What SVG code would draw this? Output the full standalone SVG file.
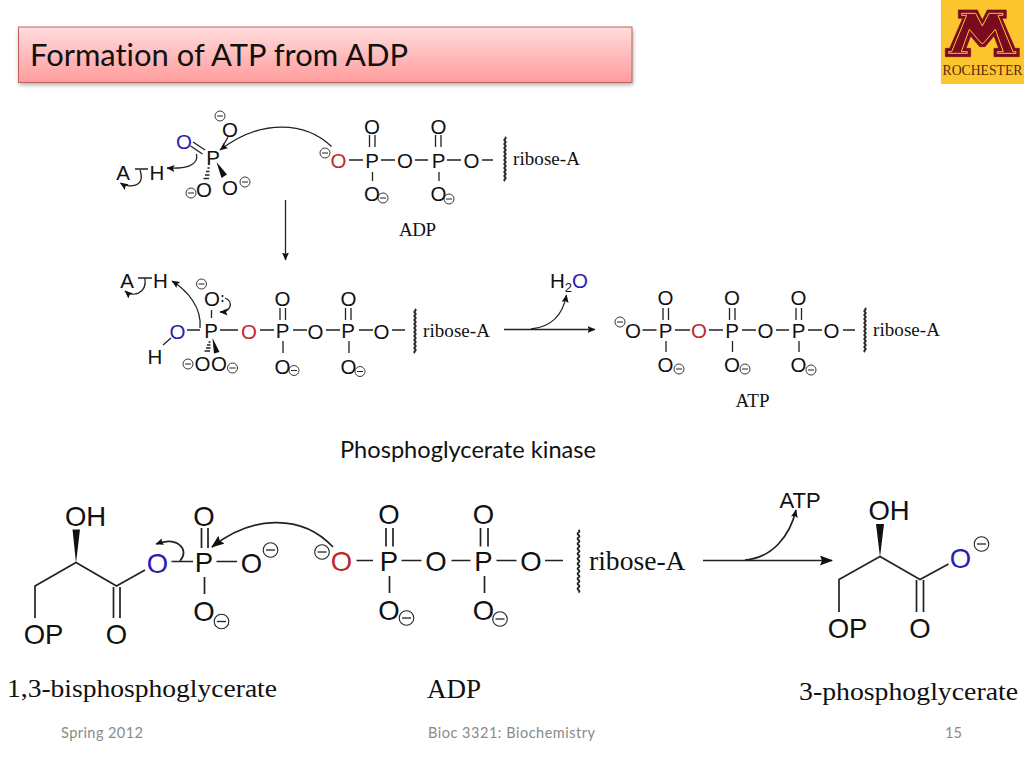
<svg xmlns="http://www.w3.org/2000/svg" width="1024" height="768" viewBox="0 0 1024 768">
<style>
text{fill:#111}
.s{font-family:"Liberation Sans",Arial,sans-serif;text-anchor:middle;font-size:20.5px}
.b{font-size:27.5px}
.t{font-family:"Liberation Serif","Times New Roman",serif}
.c{font-family:Lato,"Open Sans",sans-serif;font-variant-ligatures:none}
.f{font-family:Lato,"Open Sans",sans-serif;font-size:14.5px;fill:#8a8a8a;font-variant-ligatures:none}
.r{fill:#c0282c}.u{fill:#2a1cb4}
.l{fill:none;stroke:#222;stroke-width:1.3}
.h{stroke-width:1.7}
.a{marker-end:url(#m)}
.e{marker-end:url(#M)}
.w{fill:none;stroke:#222;stroke-width:1.9}
</style>
<defs>
<linearGradient id="g" x1="0" y1="0" x2="0" y2="1"><stop offset="0" stop-color="#ffdcdc"/><stop offset="1" stop-color="#ff9c9c"/></linearGradient>
<filter id="sh" x="-5%" y="-20%" width="110%" height="150%"><feGaussianBlur stdDeviation="2"/></filter>
<marker id="m" markerUnits="userSpaceOnUse" markerWidth="10" markerHeight="8" refX="7.5" refY="3.5" orient="auto"><path d="M0 0L8 3.5L0 7L1.5 3.5Z" fill="#111"/></marker>
<marker id="M" markerUnits="userSpaceOnUse" markerWidth="16" markerHeight="12" refX="12" refY="5" orient="auto"><path d="M0 0L13 5L0 10L2 5Z" fill="#111"/></marker>
<g id="n"><circle r="5" fill="none" stroke="#222" stroke-width=".9"/><path d="M-3 0H3" stroke="#222" stroke-width="1"/></g>
<g id="N"><circle r="7.3" fill="none" stroke="#222" stroke-width="1.1"/><path d="M-4.500 0H4.500" stroke="#222" stroke-width="1.3"/></g>
<path id="w1" d="M0 0q1.400 1 0 2t0 2t0 2t0 2t0 2t0 2t0 2t0 2t0 2t0 2t0 2t0 2t0 2t0 2t0 2t0 2t0 2t0 2t0 2t0 2t0 2t0 2" class="w"/>
<path id="w2" d="M0 0q1.800 1.250 0 2.500t0 2.500t0 2.500t0 2.500t0 2.500t0 2.500t0 2.500t0 2.500t0 2.500t0 2.500t0 2.500t0 2.500t0 2.500t0 2.500t0 2.500t0 2.500t0 2.500t0 2.500t0 2.500t0 2.500t0 2.500t0 2.500t0 2.500t0 2.500t0 2.500" class="w"/>
</defs>

<g id="title">
<rect x="19" y="30" width="614" height="55" fill="#777" opacity=".6" filter="url(#sh)"/>
<rect x="18.500" y="27" width="613.500" height="55.500" fill="url(#g)" stroke="#c4605c" stroke-width="1"/>
<text class="c" x="30" y="66" font-size="31" textLength="378" lengthAdjust="spacingAndGlyphs">Formation of ATP from ADP</text>
</g>

<g id="logo">
<rect x="941" y="0" width="83" height="84" fill="#fcc52e"/>
<g transform="translate(920 0) scale(.3333)">
<polygon points="115,30 172,30 187,60 202,30 259,30 259,55 246,55 285,145 298,145 298,170 222,170 222,145 236,145 222,108 195,140 179,140 152,108 138,145 152,145 152,170 76,170 76,145 89,145 128,55 115,55" fill="#7a0a1e" stroke="#7a0a1e" stroke-width="2"/>
<polygon points="125,40 167,40 187,78 207,40 249,40 249,46 234,46 279,155 288,155 288,160 232,160 232,155 250,155 226,88 190,130 184,130 148,88 124,155 142,155 142,160 86,160 86,155 95,155 140,46 125,46" fill="none" stroke="#fcc52e" stroke-width="3"/>
</g>
<text class="t" x="982.500" y="75" font-size="14" text-anchor="middle" textLength="80" lengthAdjust="spacingAndGlyphs" style="fill:#5a2a10">ROCHESTER</text>
</g>

<g id="reactant-top">
<path class="l" d="M193 142L205 150M190.500 146L202.500 154M223 146L228 137M135 169H148"/>
<path d="M216.500 162L227 174.500L221.500 178Z" fill="#111"/>
<path class="l" stroke-width="1" d="M207.500 168h2M206 171.500h3.500M205 175h4.500M203.500 178.500h5.500"/>
<text class="s u" x="184" y="148.500">O</text>
<text class="s" x="213" y="164.500">P</text>
<text class="s" x="230" y="136.500">O</text>
<text class="s" x="123" y="179.500">A</text>
<text class="s" x="157" y="179.500">H</text>
<text class="s" x="204" y="196.500">O</text>
<text class="s" x="230" y="194.500">O</text>
<use href="#n" x="220" y="116"/><use href="#n" x="191" y="193"/><use href="#n" x="245" y="182"/>
</g>

<g id="adp-top">
<path class="l" d="M349 160H363M381 160H395M415 160H428M447 160H461M482 160H493M369.500 135V147M375 135V147M372.500 172V181M435.500 135V147M441 135V147M439 172V181"/>
<text class="s r" x="338.500" y="167.500">O</text>
<text class="s" x="372" y="167.500">P</text>
<text class="s" x="405" y="167.500">O</text>
<text class="s" x="438.500" y="167.500">P</text>
<text class="s" x="471.500" y="167.500">O</text>
<text class="s" x="372" y="133.500">O</text>
<text class="s" x="438.500" y="133.500">O</text>
<text class="s" x="372" y="200.500">O</text>
<text class="s" x="438.500" y="200.500">O</text>
<use href="#n" x="325" y="153"/><use href="#n" x="383" y="198"/><use href="#n" x="449" y="199"/>
<use href="#w1" x="505" y="137"/>
<text class="t" x="513" y="165" font-size="19" textLength="67">ribose-A</text>
<text class="t" x="399" y="236" font-size="19" textLength="37">ADP</text>
</g>

<g id="intermediate">
<path class="l" d="M138 278H152M187 330H200M220 330H238M260 330H274M293 330H307M326 330H340M359 330H373M392 330H405M211.500 310V318M280 308V320M285.500 308V320M283 341V353M345.500 308V320M351 308V320M349 341V353M163 345L171 338"/>
<path d="M212.500 338L219.500 352L214 353.500Z" fill="#111"/>
<path class="l" stroke-width="1" d="M208.500 342h2M207 345h3.500M206 348h4.500M204.500 351h5.500"/>
<text class="s" x="127" y="287.500">A</text>
<text class="s" x="160.500" y="287.500">H</text>
<text class="s" x="212" y="305.500">O</text>
<circle cx="222.500" cy="296" r="1.100" fill="#111"/><circle cx="222.500" cy="301" r="1.100" fill="#111"/>
<text class="s u" x="177.500" y="338.500">O</text>
<text class="s" x="155" y="363.500">H</text>
<text class="s" x="211" y="337.500">P</text>
<text class="s r" x="249" y="338.500">O</text>
<text class="s" x="282.500" y="337.500">P</text>
<text class="s" x="315.500" y="338.500">O</text>
<text class="s" x="348" y="337.500">P</text>
<text class="s" x="381.500" y="338.500">O</text>
<text class="s" x="282.500" y="305.500">O</text>
<text class="s" x="348.500" y="305.500">O</text>
<text class="s" x="282.500" y="373.500">O</text>
<text class="s" x="348.500" y="373.500">O</text>
<text class="s" x="202.500" y="370.500">O</text>
<text class="s" x="219" y="370.500">O</text>
<use href="#n" x="201.500" y="284"/><use href="#n" x="188" y="364"/><use href="#n" x="232.500" y="368"/><use href="#n" x="294" y="370.500"/><use href="#n" x="360" y="371.500"/>
<use href="#w1" x="415" y="309"/>
<text class="t" x="423" y="337" font-size="19" textLength="67">ribose-A</text>
</g>

<g id="atp-top">
<path class="l" d="M642.500 330H656.500M675 330H690M709 330H723M742 330H756M776 330H789M808 330H822M843 330H855M663 308V320M668.500 308V320M666 341V352M729.500 308V320M735 308V320M732.500 341V352M796 308V320M801.500 308V320M799 341V352"/>
<text class="s" x="633" y="338">O</text>
<text class="s" x="665.500" y="337.500">P</text>
<text class="s r" x="699" y="338">O</text>
<text class="s" x="732" y="337.500">P</text>
<text class="s" x="765.500" y="338">O</text>
<text class="s" x="798.500" y="337.500">P</text>
<text class="s" x="831.500" y="338">O</text>
<text class="s" x="665.500" y="305">O</text>
<text class="s" x="732" y="305">O</text>
<text class="s" x="798.500" y="305">O</text>
<text class="s" x="665.500" y="371.500">O</text>
<text class="s" x="732" y="371.500">O</text>
<text class="s" x="798.500" y="371.500">O</text>
<use href="#n" x="620" y="322"/><use href="#n" x="679" y="369"/><use href="#n" x="745" y="369"/><use href="#n" x="811" y="370"/>
<use href="#w1" x="865" y="308"/>
<text class="t" x="873" y="336" font-size="19" textLength="67">ribose-A</text>
<text class="t" x="735.500" y="407" font-size="19" textLength="34">ATP</text>
</g>

<g id="water">
<text class="s" x="550" y="288" style="text-anchor:start">H<tspan dy="4" font-size="13">2</tspan><tspan dy="-4" class="u">O</tspan></text>
</g>

<text class="c" x="340" y="458" font-size="22.500" textLength="256" lengthAdjust="spacingAndGlyphs">Phosphoglycerate kinase</text>

<g id="bisphosphoglycerate">
<path class="l h" d="M35 618V586L76 562.500L116.500 586L145 570M113.500 587V618M120 587V618M171.500 561.500H193M216.500 561.500H237M201.500 528V548M208 528V548M204.500 577V594"/>
<path d="M76 563L72.500 529.500H80Z" fill="#111"/>
<text class="s b" x="85.500" y="525.500">OH</text>
<text class="s b" x="43.500" y="643.500">OP</text>
<text class="s b" x="116.500" y="643.500">O</text>
<text class="s b u" x="157.500" y="572.500">O</text>
<text class="s b" x="204" y="571.500">P</text>
<text class="s b" x="204" y="525.500">O</text>
<text class="s b" x="251.500" y="572.500">O</text>
<text class="s b" x="204" y="620.500">O</text>
<use href="#N" x="270.500" y="550"/><use href="#N" x="221.500" y="621.500"/>
<text class="t" x="7" y="697" font-size="26" textLength="270" lengthAdjust="spacingAndGlyphs">1,3-bisphosphoglycerate</text>
</g>

<g id="adp-bottom">
<path class="l h" d="M356.500 560.500H373M401.500 560.500H421.500M451.500 560.500H470.500M496.500 560.500H516.500M545 560.500H563M386 528V546.500M393 528V546.500M389.500 576V593M480.500 528V546.500M488 528V546.500M484.500 576V593"/>
<text class="s b r" x="341.500" y="571">O</text>
<text class="s b" x="389" y="571">P</text>
<text class="s b" x="436" y="571">O</text>
<text class="s b" x="483.500" y="571">P</text>
<text class="s b" x="531" y="571">O</text>
<text class="s b" x="389" y="524">O</text>
<text class="s b" x="483.500" y="524">O</text>
<text class="s b" x="389" y="620">O</text>
<text class="s b" x="483.500" y="620">O</text>
<use href="#N" x="322" y="552"/><use href="#N" x="406.500" y="618"/><use href="#N" x="500" y="619"/>
<use href="#w2" x="578.500" y="530"/>
<text class="t" x="589" y="570" font-size="27" textLength="96.500" lengthAdjust="spacingAndGlyphs">ribose-A</text>
<text class="t" x="427" y="698" font-size="27" textLength="54">ADP</text>
</g>

<g id="phosphoglycerate">
<path class="l h" d="M839 612V579.500L880 556.500L920 579.500L948.500 564M916.500 580V612M923.500 580V612"/>
<path d="M880 557L876 524H884Z" fill="#111"/>
<text class="s b" x="889" y="519.500">OH</text>
<text class="s b" x="847.500" y="637.500">OP</text>
<text class="s b" x="920" y="637.500">O</text>
<text class="s b u" x="960.500" y="567.500">O</text>
<use href="#N" x="981.500" y="544"/>
<text class="t" x="799" y="700" font-size="26" textLength="219" lengthAdjust="spacingAndGlyphs">3-phosphoglycerate</text>
<text class="s" x="800" y="508" style="font-size:22px">ATP</text>
</g>

<g id="connectors">
<path class="l a" d="M331.500 146.500C306 122 262 118 220 150"/>
<path class="l a" d="M196.500 154C199 166 185 169 167 168"/>
<path class="l a" d="M140 170C146 188 128 188 120.500 183"/>
<path class="l a" d="M285.500 200V260"/>
<path class="l a" d="M145 278C147 295 132 297 125 291"/>
<path class="l a" d="M200 328C202 308 188 291 172 281"/>
<path class="l a" d="M225 298C234 302 231 312 220 312"/>
<path class="l a" d="M504 329.500H595"/>
<path class="l a" d="M531 329C552 327 563 314 566.500 295"/>
<path class="l h a" d="M180 561C190 550 178 536 156 544"/>
<path class="l h e" d="M333 547C300 512 250 517 212 547"/>
<path class="l h e" d="M703 560.500H832"/>
<path class="l h a" d="M745 560C772 558 790 536 796 510"/>
</g>

<g id="footer">
<text class="f" x="61" y="738" textLength="82">Spring 2012</text>
<text class="f" x="428" y="738" textLength="167">Bioc 3321: Biochemistry</text>
<text class="f" x="945" y="738" textLength="17">15</text>
</g>
</svg>
